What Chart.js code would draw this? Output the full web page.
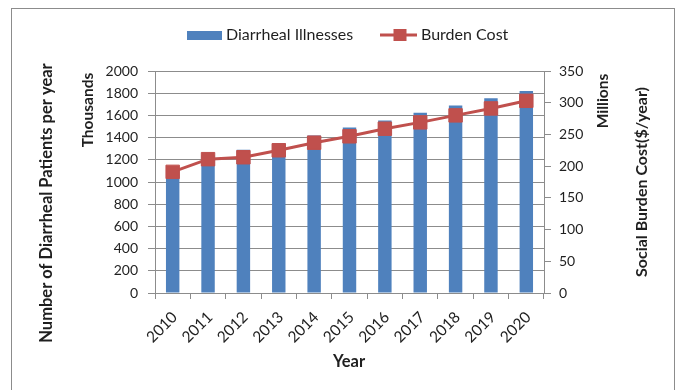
<!DOCTYPE html>
<html>
<head>
<meta charset="utf-8">
<script src="https://cdn.jsdelivr.net/npm/chart.js@4.4.1/dist/chart.umd.min.js"></script>
<style>
  html, body { margin: 0; padding: 0; background: #fff; }
  #wrap { width: 680px; height: 390px; }
</style>
</head>
<body>
<div id="wrap"><canvas id="c" width="680" height="390"></canvas></div>
<script>
// Yearly diarrheal patients (thousands) and social burden cost (millions $/year)
const years = ['2010', '2011', '2012', '2013', '2014', '2015', '2016', '2017', '2018', '2019', '2020'];
const illnesses = [1110, 1240, 1290, 1350, 1420, 1490, 1555, 1625, 1690, 1755, 1820];
const burdenCost = [191, 211, 214, 225, 237, 247, 259, 269, 280, 291, 303];

// Axis ranges and tick steps
const patientAxis = { min: 0, max: 2000, step: 200 };
const costAxis = { min: 0, max: 350, step: 50 };

const seriesNames = ['Diarrheal Illnesses', 'Burden Cost'];
const axisTitles = {
  x: 'Year',
  left: 'Number of Diarrheal Patients per year',
  leftUnit: 'Thousands',
  right: 'Social Burden Cost($/year)',
  rightUnit: 'Millions'
};

const FONT = 'Lato, "Open Sans", sans-serif';
const INK = '#1f1f1f';
const GRID = '#8c8c8c';
const BLUE = '#4F81BD';
const RED = '#C0504D';

// Frame, legend and free-standing axis captions
const decorations = {
  id: 'decorations',
  beforeDraw(chart) {
    const ctx = chart.ctx;
    ctx.save();
    ctx.fillStyle = '#fff';
    ctx.fillRect(0, 0, chart.width, chart.height);
    ctx.strokeStyle = GRID;
    ctx.lineWidth = 1;
    ctx.strokeRect(11.5, 8.5, 663, 400);
    ctx.restore();
  },
  afterDraw(chart) {
    const ctx = chart.ctx;
    const bar = chart.data.datasets[0];
    const line = chart.data.datasets[1];
    ctx.save();
    ctx.textBaseline = 'middle';

    // legend
    const ly = 35;
    ctx.fillStyle = bar.backgroundColor;
    ctx.fillRect(187, ly - 4, 35, 9);
    ctx.fillStyle = INK;
    ctx.font = '16px ' + FONT;
    ctx.textAlign = 'left';
    ctx.fillText(bar.label, 226, ly);

    ctx.strokeStyle = line.borderColor;
    ctx.lineWidth = 3;
    ctx.beginPath();
    ctx.moveTo(380, ly);
    ctx.lineTo(417, ly);
    ctx.stroke();
    ctx.fillStyle = line.pointBackgroundColor;
    ctx.fillRect(393.5, ly - 6, 13, 12);
    ctx.fillStyle = INK;
    ctx.fillText(line.label, 421, ly);

    // captions
    const caption = (text, x, y, rot, size) => {
      ctx.save();
      ctx.translate(x, y);
      ctx.rotate(rot);
      ctx.font = 'bold ' + size + 'px ' + FONT;
      ctx.textAlign = 'center';
      ctx.textBaseline = 'middle';
      ctx.fillStyle = INK;
      ctx.fillText(text, 0, 0);
      ctx.restore();
    };
    const up = -Math.PI / 2;
    caption(axisTitles.x, 349, 362, 0, 16.5);
    caption(axisTitles.left, 47, 203, up, 16.5);
    caption(axisTitles.leftUnit, 88, 110, up, 15.5);
    caption(axisTitles.rightUnit, 603, 101, up, 15.5);
    caption(axisTitles.right, 642, 182, up, 16);
    ctx.restore();
  }
};

const tickFont = { family: FONT, size: 14 };
const yearFont = { family: FONT, size: 15.5 };
const plainNumber = v => String(v);

new Chart(document.getElementById('c'), {
  data: {
    labels: years,
    datasets: [
      {
        type: 'bar',
        label: seriesNames[0],
        data: illnesses,
        yAxisID: 'y',
        backgroundColor: BLUE,
        barPercentage: 0.38,
        categoryPercentage: 1,
        order: 2
      },
      {
        type: 'line',
        label: seriesNames[1],
        data: burdenCost,
        yAxisID: 'y1',
        borderColor: RED,
        borderWidth: 3,
        tension: 0,
        pointStyle: 'rect',
        pointRadius: 9.5,
        pointBackgroundColor: RED,
        pointBorderColor: RED,
        pointBorderWidth: 1,
        order: 1
      }
    ]
  },
  options: {
    responsive: false,
    animation: false,
    devicePixelRatio: 1,
    layout: { padding: { top: 71, left: 0, right: 0, bottom: 0 } },
    plugins: {
      legend: { display: false },
      tooltip: { enabled: false }
    },
    scales: {
      x: {
        offset: true,
        grid: { offset: true, drawOnChartArea: false, drawTicks: true, tickLength: 6, color: GRID },
        border: { color: GRID },
        ticks: { minRotation: 45, maxRotation: 45, autoSkip: false, padding: 9, labelOffset: 2, font: yearFont, color: INK },
        afterFit: s => { s.height = 97; }
      },
      y: {
        position: 'left',
        min: patientAxis.min,
        max: patientAxis.max,
        grid: { color: GRID, tickLength: 7 },
        border: { color: GRID },
        ticks: { stepSize: patientAxis.step, padding: 10, font: tickFont, color: INK, callback: plainNumber },
        afterFit: s => { s.width = 155; }
      },
      y1: {
        position: 'right',
        min: costAxis.min,
        max: costAxis.max,
        grid: { drawOnChartArea: false, color: GRID, tickLength: 7 },
        border: { color: GRID },
        ticks: { stepSize: costAxis.step, padding: 8, font: tickFont, color: INK, callback: plainNumber },
        afterFit: s => { s.width = 136; }
      }
    }
  },
  plugins: [decorations]
});
</script>
</body>
</html>
